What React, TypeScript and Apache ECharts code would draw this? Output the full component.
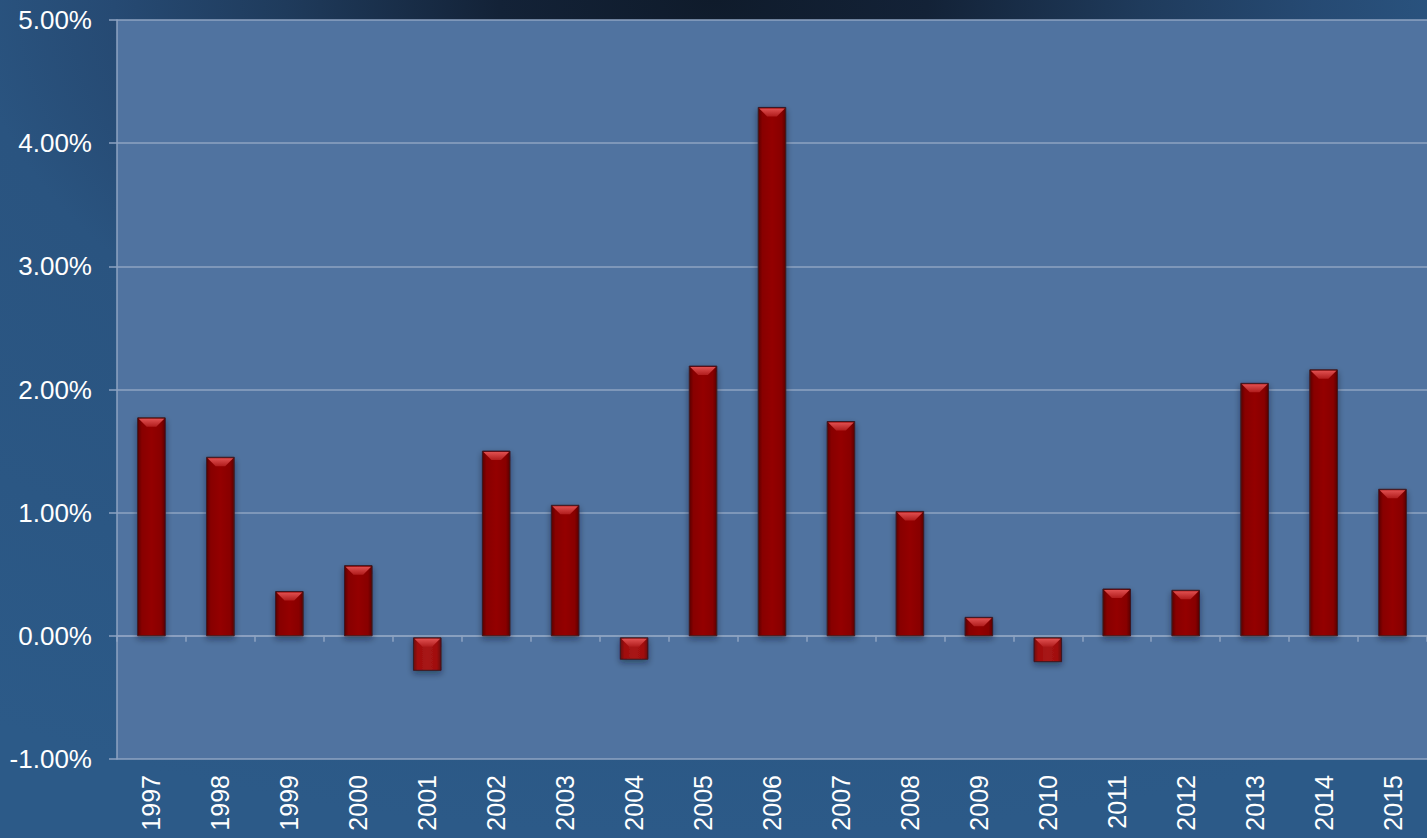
import React, { useEffect, useRef } from "react";
import * as echarts from "echarts";

const years = ["1997","1998","1999","2000","2001","2002","2003","2004","2005","2006","2007","2008","2009","2010","2011","2012","2013","2014","2015"];
const growth = [1.77, 1.45, 0.36, 0.57, -0.28, 1.50, 1.06, -0.19, 2.19, 4.29, 1.74, 1.01, 0.15, -0.21, 0.38, 0.37, 2.05, 2.16, 1.19];
const yMin = -1;
const yMax = 5;
const yStep = 1;

export default function App() {
  const ref = useRef<HTMLDivElement>(null);
  useEffect(() => {
    if (!ref.current) return;
    const chart = echarts.init(ref.current, undefined, { renderer: "svg" });
    const gridLine = "#8ea3c2";
    const renderItem = (params: any, api: any) => {
      const idx = api.value(0);
      const v = api.value(1);
      const top = api.coord([idx, Math.max(v, 0)]);
      const bot = api.coord([idx, Math.min(v, 0)]);
      const band = api.size([1, 0])[0];
      const w = band * 0.4;
      const x = top[0] - w / 2;
      let y = top[1];
      let h = bot[1] - top[1];
      if (v < 0) { y += 2; h -= 2; }
      const bev = Math.min(9, h / 2);
      const neg = v < 0;
      return {
        type: "group",
        children: [
          {
            type: "rect",
            shape: { x, y, width: w, height: h },
            style: {
              fill: new echarts.graphic.LinearGradient(0, 0, 1, 0, [
                { offset: 0, color: neg ? "#6a0606" : "#5a0000" },
                { offset: 0.15, color: neg ? "#a00f0f" : "#880000" },
                { offset: 0.5, color: neg ? "#a81414" : "#940404" },
                { offset: 0.85, color: neg ? "#a00f0f" : "#880000" },
                { offset: 1, color: neg ? "#6a0606" : "#5a0000" },
              ]),
              stroke: "#3b1a22",
              lineWidth: 1,
              shadowColor: "rgba(10,20,40,0.45)",
              shadowBlur: 6,
              shadowOffsetY: 3,
            },
          },
          {
            type: "polygon",
            shape: {
              points: [
                [x + 1, y + 1],
                [x + w - 1, y + 1],
                [x + w - bev, y + bev],
                [x + bev, y + bev],
              ],
            },
            style: {
              fill: new echarts.graphic.LinearGradient(0, 0, 0, 1, [
                { offset: 0, color: "#e05050" },
                { offset: 1, color: "#b01c1c" },
              ]),
            },
          },
        ],
      };
    };
    chart.setOption({
      animation: false,
      backgroundColor: {
        type: "radial",
        x: 0.5,
        y: 0,
        r: 1,
        colorStops: [
          { offset: 0, color: "#0f1b2b" },
          { offset: 0.15, color: "#132237" },
          { offset: 0.3, color: "#1f3b5c" },
          { offset: 0.42, color: "#264a73" },
          { offset: 0.52, color: "#2a5480" },
          { offset: 1, color: "#2c5a88" },
        ],
      },
      grid: {
        left: 117,
        right: 0,
        top: 20,
        bottom: 79,
        show: true,
        backgroundColor: "#5073a0",
        borderWidth: 0,
      },
      xAxis: [
        {
          type: "category",
          data: years,
          position: "bottom",
          axisLine: { show: false, onZero: false },
          axisTick: { show: false },
          axisLabel: {
            rotate: 90,
            color: "#ffffff",
            fontSize: 25,
            fontFamily: "Liberation Sans, Arial, sans-serif",
            margin: 16,
          },
        },
        {
          type: "category",
          data: years,
          position: "bottom",
          axisLine: { show: true, onZero: true, lineStyle: { color: gridLine, width: 1.5 } },
          axisTick: { show: true, length: 6, inside: false, lineStyle: { color: gridLine, width: 1.5 } },
          axisLabel: { show: false },
        },
      ],
      yAxis: {
        type: "value",
        min: yMin,
        max: yMax,
        interval: yStep,
        axisLine: { show: true, lineStyle: { color: gridLine, width: 1.5 } },
        axisTick: { show: true, length: 8, lineStyle: { color: gridLine, width: 1.5 } },
        splitLine: { show: true, lineStyle: { color: gridLine, width: 1.5 } },
        axisLabel: {
          color: "#ffffff",
          fontSize: 26,
          fontFamily: "Liberation Sans, Arial, sans-serif",
          margin: 25,
          formatter: (v: number) => v.toFixed(2) + "%",
        },
      },
      series: [
        {
          type: "custom",
          xAxisIndex: 0,
          renderItem,
          encode: { x: 0, y: 1 },
          data: growth.map((v, i) => [i, v]),
          z: 5,
        },
      ],
    });
    return () => chart.dispose();
  }, []);
  return <div ref={ref} style={{ width: 1427, height: 838, position: "absolute", left: 0, top: 0 }} />;
}
